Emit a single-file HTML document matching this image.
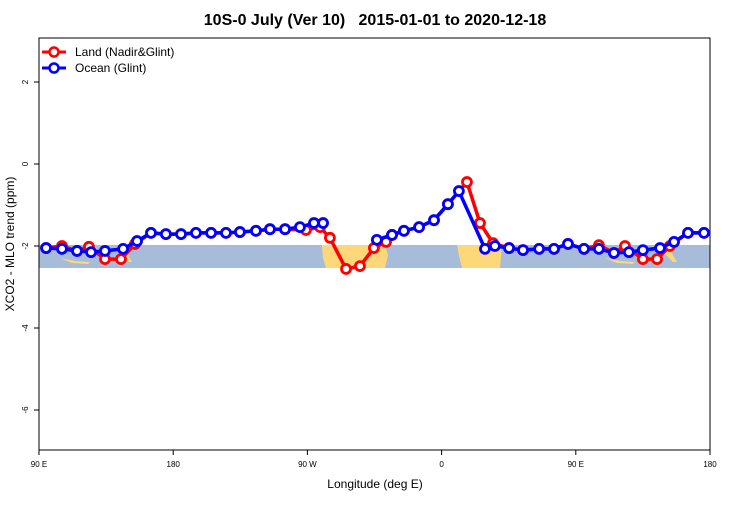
<!DOCTYPE html>
<html><head><meta charset="utf-8"><style>
body{margin:0;background:#fff;}
svg{font-family:"Liberation Sans",sans-serif;}
</style></head><body>
<svg width="750" height="500">
<text x="375" y="25" text-anchor="middle" font-size="16" font-weight="bold" style="white-space:pre">10S-0 July (Ver 10)   2015-01-01 to 2020-12-18</text>
<g id="map">
<rect x="39" y="245" width="671" height="23" fill="#a6bcd9"/>
<polygon points="322,245 385,245 388,255 385,268 326,268 323,258" fill="#fed77a"/>
<polygon points="457,245 502,245 500,268 462,268 459,256" fill="#fed77a"/>
<polygon points="60,258 75,261 90,262 88,264 72,263" fill="#fed77a"/>
<polygon points="605,258 620,261 635,262 633,264 617,263" fill="#fed77a"/>
<polygon points="118,248 126,252 132,262 128,262 120,254" fill="#fed77a"/>
<polygon points="663,248 671,252 677,262 673,262 665,254" fill="#fed77a"/>
</g>
<rect x="39" y="38" width="671" height="412" fill="none" stroke="#000" stroke-width="1"/>
<g id="axes"></g>
<g id="series"></g>
<g>
<line x1="42" y1="52" x2="66" y2="52" stroke="#f00" stroke-width="3"/>
<circle cx="54" cy="52" r="4.5" fill="#fff" stroke="#f00" stroke-width="2.5"/>
<text x="75" y="56" font-size="12">Land (Nadir&amp;Glint)</text>
<line x1="42" y1="68" x2="66" y2="68" stroke="#00f" stroke-width="3"/>
<circle cx="54" cy="68" r="4.5" fill="#fff" stroke="#00f" stroke-width="2.5"/>
<text x="75" y="72" font-size="12">Ocean (Glint)</text>
</g>
<text x="375" y="488" text-anchor="middle" font-size="12">Longitude (deg E)</text>
<text transform="translate(14,244) rotate(-90)" text-anchor="middle" font-size="12">XCO2 - MLO trend (ppm)</text>
</svg>
<script>
const xTickVals=[90,180,270,360,450,540];
const xTickLabels=["90 E","180","90 W","0","90 E","180"];
const yTickVals=[2,0,-2,-4,-6];
const yTickLabels=["2","0","-2","-4","-6"];
const oceanLon=[94.75,105.4,115.5,124.9,134.25,146.4,155.75,165.1,175.1,185.25,195.25,205.4,215.4,224.75,235.5,244.9,255,265,274.4,280.5,298,316.6,326.75,334.75,344.9,354.9,364.25,371.6,389.1,395.75,405.25,414.6,425.4,435.4,444.75,455.5,465.5,475.6,485.6,495,506.5,515.9,525.25,536];
const oceanVal=[-2.05,-2.07,-2.12,-2.15,-2.12,-2.07,-1.88,-1.68,-1.71,-1.71,-1.68,-1.68,-1.68,-1.66,-1.63,-1.59,-1.59,-1.54,-1.44,-1.44,null,-1.85,-1.73,-1.63,-1.54,-1.37,-0.98,-0.66,-2.07,-2.0,-2.05,-2.10,-2.07,-2.07,-1.95,-2.07,-2.07,-2.17,-2.15,-2.10,-2.05,-1.90,-1.68,-1.68];
const landLon=[94.75,105.4,115.5,123.5,134.25,145,154.4,165.1,175.1,185.25,195.25,205.4,215.4,224.75,235.5,244.9,255,269,278.5,285.1,295.9,305.25,314.6,322.75,326.75,334.75,344.9,354.9,364.25,377,385.75,394.5,405.25,414.6,425.4,435.4,444.75,455.5,465.5,475.6,483,495,504.5,513.1,525.25,536];
const landVal=[-2.05,-2.0,-2.12,-2.02,-2.32,-2.32,-1.95,-1.68,-1.71,-1.71,-1.68,-1.68,-1.68,-1.66,-1.63,-1.59,-1.59,-1.61,-1.54,-1.80,-2.56,-2.49,-2.05,-1.90,-1.73,-1.63,-1.54,-1.37,-0.98,-0.44,-1.44,-1.93,-2.05,-2.10,-2.07,-2.07,-1.95,-2.07,-1.98,-2.17,-2.0,-2.32,-2.32,-2.0,-1.68,-1.68];
const X=l=>39+(l-90)*671/450;
const Y=v=>164-41*v;
const NS="http://www.w3.org/2000/svg";
const axes=document.getElementById('axes');
function mk(t,a,p){const e=document.createElementNS(NS,t);for(const k in a)e.setAttribute(k,a[k]);p.appendChild(e);return e;}
xTickVals.forEach((v,i)=>{
 mk('line',{x1:X(v),x2:X(v),y1:450,y2:455,stroke:'#000'},axes);
 const t=mk('text',{x:X(v),y:467,'text-anchor':'middle','font-size':8},axes);
 t.textContent=xTickLabels[i];
 
 
});
yTickVals.forEach((v,i)=>{
 mk('line',{x1:34,x2:39,y1:Y(v),y2:Y(v),stroke:'#000'},axes);
 const t=mk('text',{transform:`translate(28,${Y(v)}) rotate(-90)`,'text-anchor':'middle','font-size':8},axes);
 t.textContent=yTickLabels[i];
 
 
});
const sg=document.getElementById('series');
function series(lon,val,col,name){
 const g=mk('g',{},sg);
 
 
 let segs=[[]];
 lon.forEach((l,i)=>{ if(val[i]===null){segs.push([]);} else segs[segs.length-1].push(X(l)+','+Y(val[i])); });
 segs.forEach(s=>{ if(s.length>1) mk('polyline',{points:s.join(' '),fill:'none',stroke:col,'stroke-width':3.5,'stroke-linejoin':'round'},g); });
 lon.forEach((l,i)=>{
  if(val[i]===null) return;
  const c=mk('circle',{cx:X(l),cy:Y(val[i]),r:4.5,fill:'#fff',stroke:col,'stroke-width':2.8},g);
  
  
 });
}
series(landLon,landVal,'#f00','land-series');
series(oceanLon,oceanVal,'#00f','ocean-series');
</script>
</body></html>
